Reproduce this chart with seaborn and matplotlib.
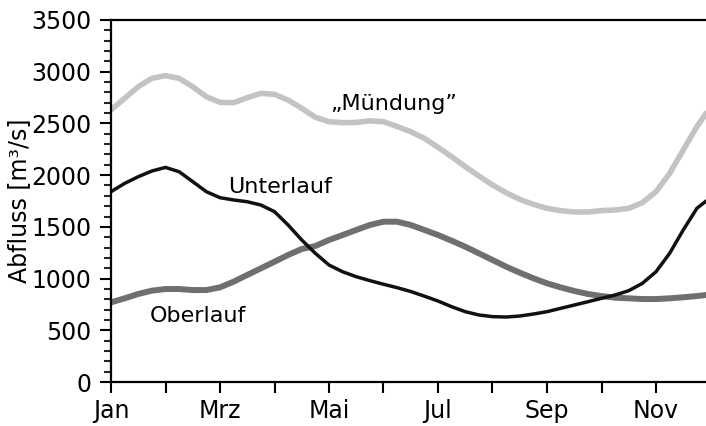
import numpy as np
import pandas as pd
import matplotlib
matplotlib.use("Agg")
import matplotlib.pyplot as plt
from matplotlib.ticker import MultipleLocator
import seaborn as sns

# month index (0 = Jan), values read every quarter month
monat = [i / 4 for i in range(44)] + [10.92]
muendung = [2630, 2743, 2855, 2936, 2962, 2936, 2855, 2758, 2704, 2700, 2749, 2791,
            2781, 2726, 2646, 2559, 2517, 2507, 2510, 2525, 2517, 2470, 2420, 2356,
            2269, 2179, 2082, 1992, 1905, 1830, 1766, 1718, 1679, 1657, 1644, 1644,
            1657, 1663, 1679, 1734, 1840, 2017, 2243, 2469, 2598]
unterlauf = [1840, 1920, 1985, 2040, 2075, 2033, 1937, 1840, 1782, 1760, 1743, 1711,
             1647, 1518, 1373, 1244, 1131, 1066, 1018, 980, 945, 912, 875, 830,
             783, 728, 680, 648, 632, 628, 638, 657, 680, 712, 744, 776,
             809, 841, 883, 954, 1066, 1244, 1470, 1679, 1750]
oberlauf = [770, 809, 851, 883, 899, 899, 889, 889, 915, 970, 1035, 1099,
            1163, 1228, 1286, 1315, 1373, 1421, 1470, 1518, 1550, 1550, 1518, 1470,
            1421, 1366, 1308, 1244, 1180, 1115, 1057, 1003, 954, 915, 880, 851,
            831, 815, 809, 802, 802, 809, 819, 831, 841]
monats_labels = ["Jan", "", "Mrz", "", "Mai", "", "Jul", "", "Sep", "", "Nov"]

df = pd.DataFrame({"monat": monat, "Mündung": muendung,
                   "Unterlauf": unterlauf, "Oberlauf": oberlauf})

sns.set_style("ticks")
plt.rcParams['font.family'] = ['DejaVu Sans']
plt.rcParams['text.color'] = 'black'

fig = plt.figure(figsize=(7.06, 4.26), dpi=100)
ax = fig.add_axes([111/706, 44/426, 1 - 111/706, 362/426])

sns.lineplot(data=df, x="monat", y="Mündung", color="#c3c3c3", lw=4.0, ax=ax)
sns.lineplot(data=df, x="monat", y="Oberlauf", color="#6f6f6f", lw=4.3, ax=ax)
sns.lineplot(data=df, x="monat", y="Unterlauf", color="#111111", lw=2.5, ax=ax)
for l in ax.get_lines():
    l.set_solid_joinstyle("round")
    l.set_solid_capstyle("round")

ax.set_xlim(0, (706 - 111) / 54.5)
ax.set_ylim(0, 3500)
ax.set_xticks(range(len(monats_labels)))
ax.set_xticklabels(monats_labels)
ax.yaxis.set_major_locator(MultipleLocator(500))
ax.yaxis.set_minor_locator(MultipleLocator(100))
ax.tick_params(axis="both", which="major", direction="out", length=8, width=1.5,
               labelsize=17, colors="black", pad=4)
ax.tick_params(axis="y", which="major", pad=6)
ax.tick_params(axis="y", which="minor", direction="out", length=5, width=1.5)
ax.set_xlabel("")
ax.set_ylabel("Abfluss [m³/s]", fontsize=17, labelpad=0, color="black")

for s in ["left", "bottom", "top"]:
    ax.spines[s].set_linewidth(1.6)
    ax.spines[s].set_color("black")
ax.spines["right"].set_visible(False)

ax.text(4.02, 2630, "\u201eMündung\u201d", fontsize=16, color="black")
ax.text(2.15, 1828, "Unterlauf", fontsize=16, color="black")
ax.text(0.72, 583, "Oberlauf", fontsize=16, color="black")

fig.savefig("out.png", dpi=100)
